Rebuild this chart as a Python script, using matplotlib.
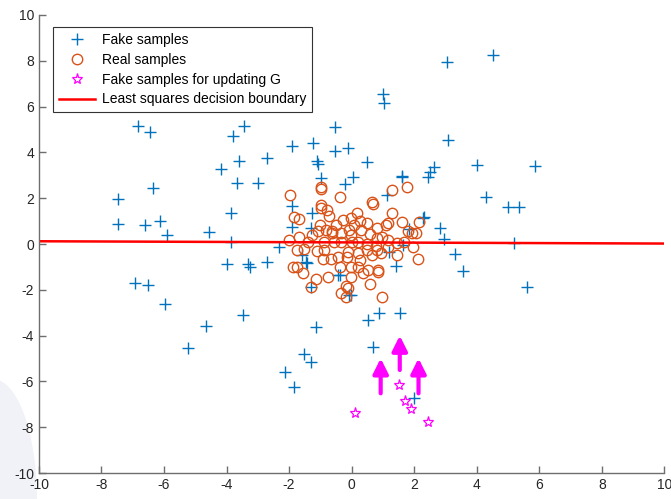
import matplotlib
matplotlib.use("Agg")
import matplotlib.pyplot as plt
from matplotlib.patches import Ellipse

plt.rcParams['font.family'] = ['Liberation Sans', 'DejaVu Sans']
plt.rcParams['axes.unicode_minus'] = False

# fake samples (blue +)
fake_x = [-7.48, -7.48, -6.82, -6.44, -6.34, -6.60, -6.14, -5.91, -4.55, -3.85, -3.85, -3.79,
          -3.45, -4.17, -3.60, -3.66, -3.00, -2.70, -1.90, -1.24, -1.10, -1.08, -0.97, -0.54,
          -0.54, -1.92, -1.26, -1.92, -1.29,
          4.53, 3.04, 1.00, 1.04, -0.12, 0.48, 3.09, 4.00, 5.87, 1.60, 2.43, 2.51, 2.62,
          -0.22, 0.04, 1.12, 4.29, 4.99, 5.36, 2.27, 2.83, 2.96, 5.20, 1.82,
          -6.94, -6.52, -5.96, -4.65, -5.23, -3.48, -3.98, -3.32, -3.26, -2.70, -2.32, -1.42,
          -1.60, -1.31, -1.14, -1.53, -1.31, -2.12, -1.83, -0.44, 3.30, 3.57, 5.60, 1.43,
          -0.03, 0.87, 0.53, 1.55, 0.70, 2.00, 1.20, 1.63, -1.47, -0.38, -0.09, 1.62, 2.32]
fake_y = [1.95, 0.87, 5.15, 4.90, 2.46, 0.82, 0.99, 0.41, 0.51, 1.34, 0.09, 4.73,
          5.15, 3.28, 3.64, 2.68, 2.68, 3.76, 4.28, 4.43, 3.61, 3.48, 2.87, 5.12,
          4.06, 1.66, 1.37, 0.76, 0.68,
          8.25, 7.95, 6.55, 6.17, 4.19, 3.60, 4.54, 3.45, 3.41, 2.94, 2.91, 3.16, 3.38,
          2.61, 2.91, 2.14, 2.07, 1.60, 1.63, 1.12, 0.71, 0.23, 0.03, 0.64,
          -1.72, -1.79, -2.63, -3.58, -4.56, -3.10, -0.87, -0.87, -0.99, -0.79, -0.12, -0.84,
          -0.48, -1.86, -3.64, -4.80, -5.15, -5.59, -6.23, -1.35, -0.44, -1.16, -1.86, -0.96,
          -2.23, -3.00, -3.32, -3.00, -4.51, -6.71, -0.34, -0.04, -0.77, -1.35, -2.23, 2.97, 1.19]

# real samples (orange circles)
real_x = [-1.98, -0.99, -0.97, -0.38, 0.66, 0.67, 1.30, 1.76, -1.85, -1.69, -0.99, -0.98,
          -0.78, -0.73, -0.51, -0.27, -0.03, 0.18, 0.27, 0.07, 0.50, 0.82, 1.09, 1.16,
          1.30, 1.62, 1.79, 1.93, 2.05, 2.16, -1.02, -0.83, -0.62, -0.33, -0.09, -0.02,
          0.29, 0.59, 0.82, 0.97, 1.16, 1.46, 1.68, -2.00, -1.69, -1.40, -1.26, -0.89,
          -0.56, -0.33, 0.00, 0.20, 0.50, 0.78, -1.74, -1.52, -1.12, -0.87, -0.91, -0.67,
          -0.45, -0.14, -0.10, 0.19, 0.26, 0.50, 0.66, 0.80, 0.93, 1.16, 1.44, 1.97,
          2.11, -1.87, -1.74, -1.56, -1.15, -0.76, -0.37, -0.02, -0.03, 0.20, 0.35, 0.53,
          0.83, 0.59, -0.19, -0.12, -0.35, -0.19, 0.98, -1.30, -1.08, -0.63, 0.84]
real_y = [2.14, 2.50, 2.40, 2.04, 1.85, 1.75, 2.36, 2.48, 1.17, 1.08, 1.70, 1.56,
          1.48, 1.22, 0.83, 1.05, 1.12, 1.37, 1.02, 0.83, 0.90, 0.69, 0.83, 0.93,
          1.34, 0.97, 0.58, 0.50, 0.48, 0.97, 0.83, 0.61, 0.47, 0.50, 0.61, 0.40,
          0.61, 0.44, 0.25, 0.32, 0.17, 0.03, 0.10, 0.17, 0.29, 0.10, 0.39, 0.10,
          0.10, 0.10, 0.10, 0.10, 0.00, -0.08, -0.26, -0.22, -0.29, -0.26, -0.67, -0.67,
          -0.56, -0.55, -0.34, -0.40, -0.71, -0.24, -0.48, -0.27, -0.40, -0.15, -0.48, -0.15,
          -0.67, -1.02, -1.02, -1.28, -1.54, -1.43, -1.02, -1.02, -1.43, -0.99, -1.28, -1.13,
          -1.13, -1.75, -1.83, -1.93, -2.13, -2.33, -2.30, -1.88, 0.55, 0.55, -1.21]

# fake samples used for updating G (magenta stars)
upd_x = [0.10, 1.52, 1.70, 1.89, 2.43]
upd_y = [-7.39, -6.16, -6.86, -7.22, -7.79]

# arrows: x, tail y, tip y
arrow_x = [0.93, 1.54, 2.14]
arrow_y0 = [-6.52, -5.50, -6.52]
arrow_y1 = [-4.99, -4.00, -4.99]

# least squares boundary end points
line_x = [-10, 10]
line_y = [0.12, 0.02]

ticks = [-10, -8, -6, -4, -2, 0, 2, 4, 6, 8, 10]

fig = plt.figure(figsize=(6.71, 4.99), dpi=100)
# faint slide background shape in the lower left corner
fig.patches.append(Ellipse((-0.01, 0.0), 0.13, 0.48, transform=fig.transFigure,
                           facecolor='#f1f2f7', edgecolor='none', zorder=-10))
ax = fig.add_axes([0.058, 0.052, 0.932, 0.918])
ax.patch.set_alpha(0)

ax.plot(fake_x, fake_y, '+', color='#0072BD', markersize=8, markeredgewidth=1.0,
        label='Fake samples')
ax.plot(real_x, real_y, 'o', color='#D95319', markerfacecolor='none', markersize=7.5,
        markeredgewidth=1.0, label='Real samples')
ax.plot(upd_x, upd_y, '*', color='#FF00FF', markerfacecolor='none', markersize=8,
        markeredgewidth=0.9, label='Fake samples for updating G')
ax.plot(line_x, line_y, '-', color='#FF0000', linewidth=1.8,
        label='Least squares decision boundary')

for xa, ya, yb in zip(arrow_x, arrow_y0, arrow_y1):
    ax.annotate('', xy=(xa, yb), xytext=(xa, ya),
                arrowprops=dict(arrowstyle='-|>,head_width=0.45,head_length=0.9',
                                color='#FF00FF', lw=3, shrinkA=0, shrinkB=0))

ax.set_xlim(-10, 10)
ax.set_ylim(-10, 10)
ax.set_xticks(ticks)
ax.set_yticks(ticks)
for s in ['top', 'right']:
    ax.spines[s].set_visible(False)
for s in ['left', 'bottom']:
    ax.spines[s].set_color('#6e6e6e')
    ax.spines[s].set_linewidth(1.0)
ax.tick_params(direction='in', length=5, width=1, colors='#6e6e6e',
               labelcolor='#262626', labelsize=10)

leg = ax.legend(loc='upper left', bbox_to_anchor=(0.012, 0.988), fontsize=10,
                frameon=True, fancybox=False, edgecolor='#333333', framealpha=1,
                borderpad=0.4, labelspacing=0.42, handlelength=2.6, handletextpad=0.5)
leg.get_frame().set_linewidth(0.8)

fig.savefig('out.png', dpi=100)
